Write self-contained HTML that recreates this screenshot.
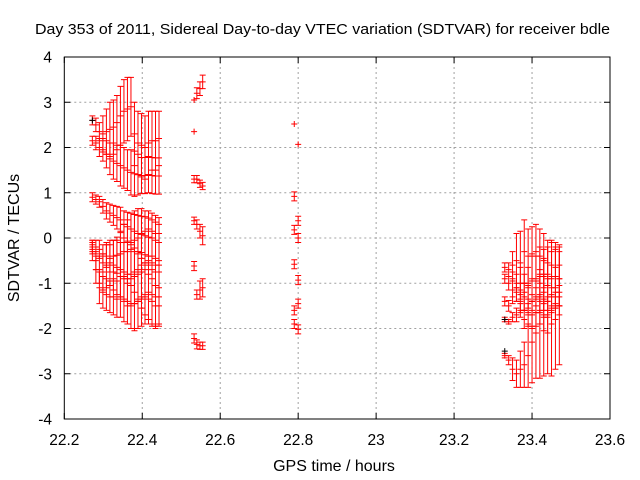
<!DOCTYPE html>
<html><head><meta charset="utf-8"><style>
html,body{margin:0;padding:0;background:#fff}
svg{display:block;font-family:"Liberation Sans",sans-serif}
</style></head><body>
<svg id="chart" width="640" height="480">
<rect width="640" height="480" fill="#fff"/>
<text x="35" y="34" font-size="15" textLength="575" lengthAdjust="spacingAndGlyphs">Day 353 of 2011, Sidereal Day-to-day VTEC variation (SDTVAR) for receiver bdle</text>
<g id="grid"></g>
<g id="ticks"></g>
<g id="marks"></g>
<rect x="64.3" y="57" width="545.7" height="362" fill="none" stroke="#000" stroke-width="1"/>
<text x="19" y="238" font-size="16" text-anchor="middle" transform="rotate(-90 19 238)">SDTVAR / TECUs</text>
<text x="334" y="471" font-size="16" text-anchor="middle">GPS time / hours</text>
</svg>
<script>
const xTicks=[22.2,22.4,22.6,22.8,23,23.2,23.4,23.6];
const xTickLabels=["22.2","22.4","22.6","22.8","23","23.2","23.4","23.6"];
const yTicks=[-4,-3,-2,-1,0,1,2,3,4];
const yTickLabels=["-4","-3","-2","-1","0","1","2","3","4"];

const leftX=[22.272,22.281,22.290,22.299,22.308,22.317,22.326,22.335,22.344,22.353,22.362,22.371,22.380,22.389,22.398,22.407,22.416,22.425,22.434,22.443];
const trackA=[2.15,2.1,2.0,1.95,1.85,1.75,1.7,1.65,1.6,1.55,1.5,1.45,1.42,1.4,1.38,1.38,1.4,1.38,1.37,1.37];
const errA=[0.1,0.15,0.2,0.25,0.3,0.35,0.4,0.4,0.45,0.45,0.45,0.5,0.5,0.45,0.4,0.4,0.4,0.4,0.4,0.4];
const trackB=[2.6,2.5,2.35,2.3,2.35,2.4,2.45,2.55,2.7,2.8,2.85,2.9,2.3,2.1,2.05,2.0,2.1,2.15,2.15,2.2];
const errB=[0.1,0.15,0.2,0.4,0.5,0.6,0.6,0.6,0.65,0.7,0.7,0.65,0.7,0.7,0.7,0.7,0.7,0.65,0.65,0.6];
const trackC=[0.9,0.85,0.8,0.7,0.6,0.55,0.5,0.45,0.4,0.3,0.25,0.2,0.15,0.1,0.08,0.05,0.02,0.0,-0.05,-0.1];
const errC=[0.1,0.1,0.12,0.15,0.18,0.2,0.22,0.25,0.28,0.3,0.32,0.35,0.37,0.4,0.4,0.42,0.42,0.4,0.4,0.4];
const trackD=[-0.15,-0.2,-0.25,-0.35,-0.4,-0.45,-0.4,-0.38,-0.35,-0.3,-0.3,-0.25,-0.3,-0.35,-0.45,-0.55,-0.6,-0.7,-0.75,-0.75];
const errD=[0.1,0.15,0.2,0.2,0.25,0.3,0.35,0.4,0.5,0.6,0.7,0.8,0.9,1.0,1.1,1.15,1.2,1.25,1.25,1.2];
const trackE=[-0.2,-0.5,-0.7,-0.75,-0.6,-0.55,-0.6,-0.65,-0.7,-0.75,-0.8,-0.8,-0.75,-0.7,-0.6,-0.55,-0.5,-0.55,-0.6,-0.6];
const errE=[0.15,0.2,0.3,0.4,0.5,0.5,0.55,0.6,0.6,0.65,0.7,0.7,0.7,0.7,0.7,0.7,0.7,0.7,0.7,0.7];
const trackF=[-0.3,-0.7,-1.1,-1.2,-1.25,-1.3,-1.3,-1.35,-1.3,-1.35,-1.4,-1.45,-1.45,-1.4,-1.35,-1.3,-1.35,-1.4,-1.5,-1.5];
const errF=[0.2,0.3,0.35,0.35,0.35,0.35,0.4,0.4,0.45,0.5,0.5,0.55,0.6,0.6,0.6,0.6,0.55,0.5,0.45,0.4];

const midX=[22.533,22.533,22.533,22.533,22.533,22.533,22.540,22.540,22.540,22.540,22.540,22.548,22.548,22.548,22.548,22.548,22.555,22.555,22.555,22.555,22.555,22.790,22.790,22.790,22.790,22.790,22.790,22.800,22.800,22.800,22.800,22.800,22.800];
const midY=[3.05,2.35,1.3,0.38,-0.62,-2.22,1.3,0.3,-1.25,-2.35,3.2,1.2,0.15,-1.15,-2.38,3.3,1.15,0.05,-1.1,-2.38,3.45,2.52,0.92,0.18,-0.58,-1.6,-1.9,2.07,0.38,0.0,-0.93,-1.45,-2.02];
const midErr=[0,0,0.08,0.08,0.1,0.1,0.08,0.1,0.1,0.1,0.12,0.08,0.15,0.2,0.08,0.15,0.08,0.2,0.2,0.08,0.15,0,0.1,0.1,0.1,0.1,0.1,0,0.1,0.1,0.1,0.1,0.1];

const rightX=[23.33,23.34,23.35,23.36,23.37,23.38,23.39,23.40,23.41,23.42,23.43,23.44,23.45,23.46,23.47];
const trackR1=[-0.65,-0.7,-0.6,-0.5,-0.55,-0.3,-0.4,-0.35,-0.3,-0.4,-0.5,-0.55,-0.6,-0.65,-0.6];
const errR1=[0.1,0.15,0.3,0.6,0.7,0.7,0.6,0.6,0.6,0.6,0.6,0.5,0.5,0.45,0.45];
const trackR2=[-0.9,-1.0,-0.95,-1.1,-1.0,-1.2,-1.1,-0.9,-0.95,-0.8,-0.85,-0.8,-0.9,-0.85,-0.9];
const errR2=[0.1,0.15,0.2,0.3,0.35,0.4,0.45,0.5,0.55,0.6,0.6,0.6,0.6,0.6,0.6];
const trackR3=[-1.4,-1.5,-1.3,-1.2,-1.4,-1.3,-1.35,-1.6,-1.3,-1.25,-1.2,-1.3,-1.25,-1.2,-1.2];
const errR3=[0.1,0.12,0.15,0.2,0.25,0.3,0.3,0.35,0.35,0.4,0.4,0.4,0.4,0.35,0.3];
const trackR4=[-1.8,-1.85,-1.75,-1.7,-1.6,-1.8,-1.7,-1.7,-1.65,-1.6,-1.7,-1.75,-1.6,-1.55,-1.5];
const errR4=[0.05,0.05,0.1,0.15,0.15,0.2,0.25,0.3,0.3,0.3,0.35,0.35,0.3,0.25,0.2];
const trackR5=[-2.6,-2.7,-2.9,-3.0,-2.9,-2.8,-2.6,-2.3,-2.1,-1.9,-1.75,-1.6,-1.55,-1.5,-1.5];
const errR5=[0.05,0.1,0.25,0.3,0.4,0.5,0.7,0.9,1.0,1.2,1.3,1.4,1.5,1.4,1.3];

const blackX=[22.272,23.33,23.33];
const blackY=[2.6,-2.5,-1.8];

const X0=64.3,X1=610,Y0=419,Y1=57;
const xs=v=>X0+(v-22.2)/(23.6-22.2)*(X1-X0);
const ys=v=>Y0-(v+4)/8*(Y0-Y1);
const NS="http://www.w3.org/2000/svg";
function mk(tag,attrs,parent){const e=document.createElementNS(NS,tag);for(const k in attrs)e.setAttribute(k,attrs[k]);parent.appendChild(e);return e;}
const grid=document.getElementById('grid'),ticks=document.getElementById('ticks'),marks=document.getElementById('marks');

xTicks.forEach((t,i)=>{const x=xs(t);
 if(i>0&&i<xTicks.length-1){const g=mk('line',{x1:x,x2:x,y1:Y1,y2:Y0,stroke:'#a0a0a0','stroke-dasharray':'2,3'},grid);
 
 }
 mk('line',{x1:x,x2:x,y1:Y0,y2:Y0-6,stroke:'#000'},ticks);
 mk('line',{x1:x,x2:x,y1:Y1,y2:Y1+6,stroke:'#000'},ticks);
 const l=mk('text',{x:x,y:445,'font-size':15.5,'text-anchor':'middle'},ticks);l.textContent=xTickLabels[i];
 
 
});
yTicks.forEach((t,i)=>{const y=ys(t);
 if(i>0&&i<yTicks.length-1){const g=mk('line',{x1:X0,x2:X1,y1:y,y2:y,stroke:'#a0a0a0','stroke-dasharray':'2,3'},grid);
 
 }
 mk('line',{x1:X0,x2:X0+6,y1:y,y2:y,stroke:'#000'},ticks);
 mk('line',{x1:X1,x2:X1-6,y1:y,y2:y,stroke:'#000'},ticks);
 const l=mk('text',{x:52,y:y+5.5,'font-size':15.5,'text-anchor':'end'},ticks);l.textContent=yTickLabels[i];
 
 
});

function errbar(xv,yv,ev,color){const x=xs(xv),y=ys(yv);let d='';
 if(ev>0){const a=ys(yv+ev),b=ys(yv-ev);d+=`M${x},${a}V${b}M${x-3},${a}H${x+3}M${x-3},${b}H${x+3}`;}
 d+=`M${x-3},${y}H${x+3}M${x},${y-3}V${y+3}`;
 const p=mk('path',{d:d,stroke:color,'stroke-width':1,fill:'none'},marks);
 
 }

[[trackA,errA],[trackB,errB],[trackC,errC],[trackD,errD],[trackE,errE],[trackF,errF]].forEach(([v,e])=>v.forEach((y,i)=>errbar(leftX[i],y,e[i],'#ff0000')));
midY.forEach((y,i)=>errbar(midX[i],y,midErr[i],'#ff0000'));
[[trackR1,errR1],[trackR2,errR2],[trackR3,errR3],[trackR4,errR4],[trackR5,errR5]].forEach(([v,e])=>v.forEach((y,i)=>errbar(rightX[i],y,e[i],'#ff0000')));
blackY.forEach((y,i)=>errbar(blackX[i],y,0,'#000000'));
</script>
</body></html>
